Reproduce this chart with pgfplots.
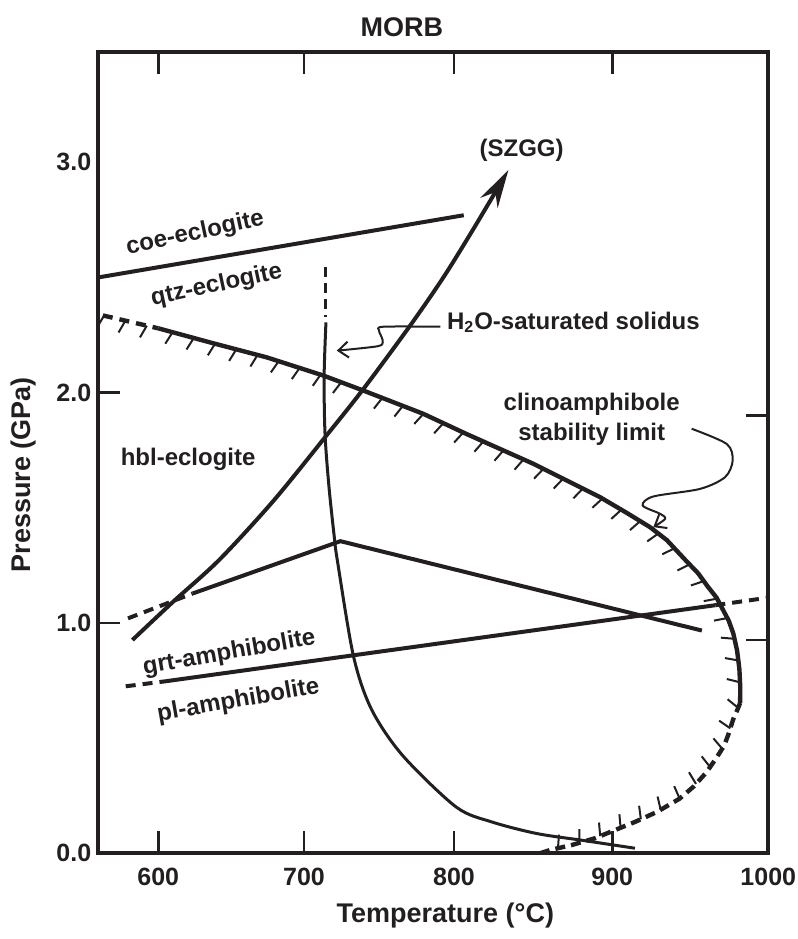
\documentclass[border=0pt]{standalone}
\usepackage{fontspec}
\setmainfont{Liberation Sans}
\usepackage{pgfplots}
\pgfplotsset{compat=1.18}
\usetikzlibrary{decorations.markings, arrows.meta}
\definecolor{ink}{RGB}{35,31,32}
\tikzset{hatch/.style={postaction={decorate}, decoration={markings, mark=between positions 0.02 and 0.99 step 11pt with {\draw[solid, line width=1pt, ink] (0pt,0pt) -- (-2pt,-6.5pt);}}}}
\begin{document}
\begin{tikzpicture}
\begin{axis}[
  width=335pt, height=400.8pt, scale only axis,
  xmin=560, xmax=1000, ymin=0, ymax=3.48,
  xtick={599.4,695.1,793.6,897.5,1000}, xticklabels={600,700,800,900,1000},
  ytick={0,1,2}, yticklabels={0.0,1.0,2.0},
  extra y ticks={3}, extra y tick labels={3.0}, extra y tick style={major tick length=0pt},
  ytick pos=left,
  major tick length=11pt,
  tick style={line width=1.3pt, ink},
  axis line style={line width=2pt, ink},
  /pgf/number format/assume math mode=true,
  tick label style={font=\bfseries\fontsize{12.5}{14}\selectfont, text=ink},
  xticklabel style={yshift=-4pt},
  xlabel={Temperature (°C)}, ylabel={Pressure (GPa)},
  label style={font=\bfseries\fontsize{13.5}{16}\selectfont, text=ink},
  xlabel style={at={(axis description cs:0.518,0)}, anchor=center, yshift=-31pt},
  ylabel style={at={(axis description cs:0,0.472)}, anchor=center, yshift=37.5pt},
  title={MORB}, title style={font=\bfseries\fontsize{13.5}{15}\selectfont, text=ink, at={(axis description cs:0.453,1)}, anchor=south, yshift=-2pt},
]
% coe / qtz eclogite boundary
\addplot[line width=2pt, ink] coordinates {(560,2.50) (800,2.77)};
% SZGG path
\addplot[line width=2pt, ink, smooth, -{Stealth[length=19pt, width=10pt]}] coordinates {
 (582.4,0.926) (608.8,1.09) (639.6,1.275) (675,1.53) (708.9,1.806) (734,2.015) (764.7,2.29) (786.6,2.50) (806.3,2.71) (829.3,2.966)};
% H2O-saturated solidus
\addplot[line width=1.5pt, ink, dash pattern=on 5pt off 3pt] coordinates {(709.5,2.544) (709.5,2.327)};
\addplot[line width=1.5pt, ink, smooth] coordinates {
 (709.5,2.305) (708.3,2.07) (708.9,1.82) (711.5,1.59) (715,1.372) (717,1.271) (727.6,0.855) (739.4,0.625) (759.8,0.425) (795,0.201) (818.5,0.136) (847.8,0.086) (877.2,0.057) (912.4,0.022)};
% clinoamphibole stability limit
\addplot[line width=2.2pt, ink, dash pattern=on 5pt off 3.5pt, hatch] coordinates {(563,2.335) (599.4,2.279)};
\addplot[line width=2.2pt, ink, line join=round, hatch] coordinates {
 (599.4,2.279) (635,2.215) (670.6,2.153) (707.8,2.074) (734,2.009) (773.4,1.908) (801.9,1.82) (845.7,1.691) (889.5,1.546) (907,1.478) (922.3,1.416) (933.3,1.36) (946,1.27) (954,1.215) (960,1.16) (966,1.11) (970,1.06) (974,1.01) (977,0.955) (979.5,0.88) (981,0.80) (981.6,0.72) (981.5,0.653)};
\addplot[line width=2.2pt, ink, line join=round, dash pattern=on 5pt off 3pt, hatch] coordinates {
 (981.5,0.653) (979.5,0.62) (976.9,0.581) (974,0.52) (971,0.467) (965.5,0.41) (959.3,0.351) (951,0.29) (941.7,0.237) (927,0.18) (912.4,0.136) (899,0.10) (886,0.065) (871,0.036) (856.6,0.014) (850,0)};
% grt / pl amphibolite boundary
\addplot[line width=2pt, ink, dash pattern=on 5pt off 3.5pt] coordinates {(578,0.725) (604.4,0.747)};
\addplot[line width=2pt, ink] coordinates {(604.4,0.747) (965.2,1.077)};
\addplot[line width=2pt, ink, dash pattern=on 5pt off 3.5pt] coordinates {(965.2,1.077) (1000,1.11)};
% hbl-eclogite lower boundary
\addplot[line width=2pt, ink, dash pattern=on 5pt off 3.5pt] coordinates {(579.5,1.02) (622,1.128)};
\addplot[line width=2pt, ink] coordinates {(622,1.128) (719,1.355) (956.4,0.967)};
% leaders
\addplot[line width=1pt, ink, smooth, -{Straight Barb[length=5pt, width=8pt]}] coordinates {
 (784.7,2.286) (747.2,2.286) (744.4,2.269) (746.1,2.240) (746.8,2.218) (743.2,2.201) (716.6,2.182)};
\addplot[line width=1pt, ink, smooth, -{Straight Barb[length=5pt, width=8pt]}] coordinates {
 (949.7,1.843) (972.7,1.777) (976.6,1.705) (971.6,1.633) (955.2,1.582) (924.5,1.549) (917.5,1.510) (928.9,1.474) (932.2,1.452) (924.5,1.416)};
% labels
\node[font=\bfseries\fontsize{12}{14}\selectfont, text=ink, rotate=12] at (axis cs:623.6,2.69) {coe-eclogite};
\node[font=\bfseries\fontsize{12}{14}\selectfont, text=ink, rotate=12] at (axis cs:637.7,2.464) {qtz-eclogite};
\node[font=\bfseries\fontsize{12}{14}\selectfont, text=ink] at (axis cs:619,1.71) {hbl-eclogite};
\node[font=\bfseries\fontsize{12}{14}\selectfont, text=ink, rotate=10] at (axis cs:646,0.869) {grt-amphibolite};
\node[font=\bfseries\fontsize{12}{14}\selectfont, text=ink, rotate=10] at (axis cs:652,0.661) {pl-amphibolite};
\node[font=\bfseries\fontsize{12}{14}\selectfont, text=ink] at (axis cs:872,2.305) {H\textsubscript{2}O-saturated solidus};
\node[font=\bfseries\fontsize{12}{15}\selectfont, text=ink, align=center] at (axis cs:884,1.886) {clinoamphibole\\stability limit};
\node[font=\bfseries\fontsize{12}{14}\selectfont, text=ink] at (axis cs:838,3.05) {(SZGG)};
\end{axis}
\begin{axis}[
  width=335pt, height=400.8pt, scale only axis,
  xmin=560, xmax=1000, ymin=0, ymax=3.48,
  xtick=\empty, ytick={0.926,1.90},
  ytick pos=right,
  yticklabels={},
  major tick length=11pt,
  tick style={line width=1.3pt, ink},
  axis line style={line width=2pt, ink},
]
\end{axis}
\pgfresetboundingbox
\path ([shift={(-49.15pt,-42.85pt)}]current axis.south west) rectangle ([shift={(14.35pt,25.85pt)}]current axis.north east);
\end{tikzpicture}
\end{document}
